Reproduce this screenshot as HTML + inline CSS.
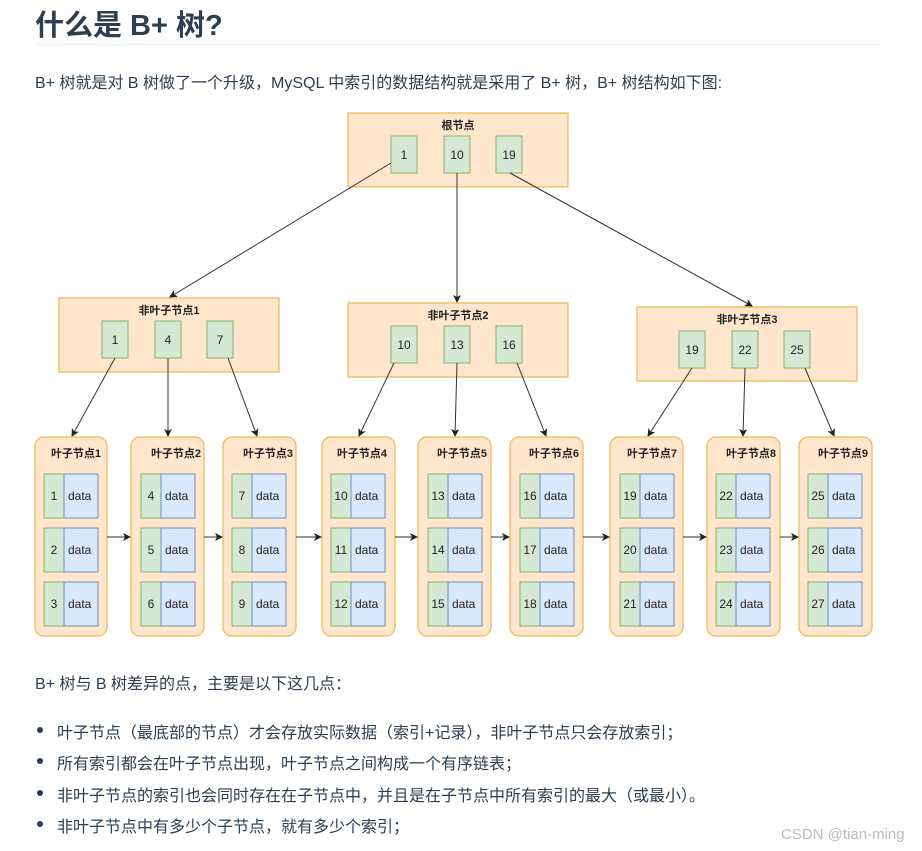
<!DOCTYPE html>
<html><head><meta charset="utf-8"><style>
body{margin:0;width:922px;height:851px;background:#fff;position:relative;overflow:hidden;font-family:"Liberation Sans","Noto Sans CJK SC",sans-serif;color:#2c3e50}
.a{position:absolute;white-space:nowrap}
h1{position:absolute;left:35px;top:2px;margin:0;font-size:29px;font-weight:bold;color:#2c3e50;font-family:"Liberation Sans","Noto Sans CJK SC",sans-serif}
.hr{position:absolute;left:35px;top:44px;width:845px;height:1px;background:#eaecef}
p,.li{font-size:16px}
.dot{position:absolute;width:6px;height:6px;border-radius:50%;background:#2c3e50}
</style></head><body>
<h1>什么是 B+ 树?</h1>
<div class="hr"></div>
<div class="a" style="left:35px;top:69px;font-size:16px">B+ 树就是对 B 树做了一个升级，MySQL 中索引的数据结构就是采用了 B+ 树，B+ 树结构如下图:</div>
<svg class="a" style="left:0;top:0" width="922" height="851" font-family="Liberation Sans,Noto Sans CJK SC,sans-serif">
<defs><marker id="m" markerWidth="8" markerHeight="8" refX="7" refY="4" orient="auto" markerUnits="userSpaceOnUse"><path d="M0,0 L8,4 L0,8 L2,4z" fill="#222"/></marker></defs>
<g fill="#ffe6cc" stroke="#f0b84a" stroke-width="1.2">
<rect x="348" y="113" width="220" height="74"/>
<rect x="59" y="298" width="220" height="74"/>
<rect x="348" y="303" width="220" height="74"/>
<rect x="637" y="307" width="220" height="74"/>
</g>
<g font-size="11" font-weight="bold" fill="#222" text-anchor="middle">
<text x="458" y="129">根节点</text>
<text x="169" y="314">非叶子节点1</text>
<text x="458" y="319">非叶子节点2</text>
<text x="747" y="323">非叶子节点3</text>
</g>
<g fill="#d5e8d4" stroke="#82b366" stroke-width="1">
<rect x="391" y="136" width="26" height="37"/><rect x="444" y="136" width="26" height="37"/><rect x="496" y="136" width="26" height="37"/>
<rect x="102" y="321" width="26" height="37"/><rect x="155" y="321" width="26" height="37"/><rect x="207" y="321" width="26" height="37"/>
<rect x="391" y="326" width="26" height="37"/><rect x="444" y="326" width="26" height="37"/><rect x="496" y="326" width="26" height="37"/>
<rect x="679" y="331" width="26" height="37"/><rect x="732" y="331" width="26" height="37"/><rect x="784" y="331" width="26" height="37"/>
</g>
<g font-size="12" fill="#222" text-anchor="middle">
<text x="404" y="159">1</text><text x="457" y="159">10</text><text x="509" y="159">19</text>
<text x="115" y="344">1</text><text x="168" y="344">4</text><text x="220" y="344">7</text>
<text x="404" y="349">10</text><text x="457" y="349">13</text><text x="509" y="349">16</text>
<text x="692" y="354">19</text><text x="745" y="354">22</text><text x="797" y="354">25</text>
</g>
<g stroke="#333" stroke-width="1" marker-end="url(#m)">
<line x1="391" y1="163" x2="170" y2="297"/>
<line x1="457" y1="173" x2="457" y2="302"/>
<line x1="510" y1="173" x2="752" y2="306"/>
<line x1="115" y1="358" x2="72" y2="436"/>
<line x1="168" y1="358" x2="168" y2="436"/>
<line x1="228" y1="358" x2="257" y2="436"/>
<line x1="394" y1="363" x2="359" y2="436"/>
<line x1="457" y1="363" x2="455" y2="436"/>
<line x1="517" y1="363" x2="546" y2="436"/>
<line x1="692" y1="368" x2="648" y2="436"/>
<line x1="745" y1="368" x2="743" y2="436"/>
<line x1="805" y1="368" x2="834" y2="436"/>
</g>
<g id="leaves"></g>
<g font-size="12" fill="#222">
<!-- leaves generated below -->
</g>
<g id="L">
<g fill="#ffe6cc" stroke="#f0b84a" stroke-width="1.2">
<rect x="35" y="437" width="72" height="199" rx="9"/>
<rect x="131" y="437" width="73" height="199" rx="9"/>
<rect x="223" y="437" width="73" height="199" rx="9"/>
<rect x="322" y="437" width="73" height="199" rx="9"/>
<rect x="418" y="437" width="73" height="199" rx="9"/>
<rect x="510" y="437" width="73" height="199" rx="9"/>
<rect x="610" y="437" width="73" height="199" rx="9"/>
<rect x="707" y="437" width="73" height="199" rx="9"/>
<rect x="799" y="437" width="73" height="199" rx="9"/>
</g>
<g stroke="#333" stroke-width="1" marker-end="url(#m)">
<line x1="107" y1="537" x2="130" y2="537"/>
<line x1="204" y1="537" x2="222" y2="537"/>
<line x1="296" y1="537" x2="321" y2="537"/>
<line x1="395" y1="537" x2="417" y2="537"/>
<line x1="491" y1="537" x2="509" y2="537"/>
<line x1="583" y1="537" x2="609" y2="537"/>
<line x1="683" y1="537" x2="706" y2="537"/>
<line x1="780" y1="537" x2="798" y2="537"/>
</g>
<g font-size="11" font-weight="bold" fill="#222" text-anchor="middle">
<text x="76" y="457">叶子节点1</text><text x="176" y="457">叶子节点2</text><text x="268" y="457">叶子节点3</text>
<text x="362" y="457">叶子节点4</text><text x="462" y="457">叶子节点5</text><text x="554" y="457">叶子节点6</text>
<text x="652" y="457">叶子节点7</text><text x="751" y="457">叶子节点8</text><text x="843" y="457">叶子节点9</text>
</g>
</g>
<g id="cells"></g>
</svg>
<svg class="a" style="left:0;top:0" width="922" height="851" font-family="Liberation Sans,sans-serif" font-size="12" fill="#222">
<g stroke-width="1">
<!-- leaf 1 -->
<g transform="translate(44,0)">
<rect x="0" y="474" width="20" height="44" fill="#d5e8d4" stroke="#82b366"/><rect x="20" y="474" width="34" height="44" fill="#dae8fc" stroke="#6c8ebf"/>
<rect x="0" y="528" width="20" height="44" fill="#d5e8d4" stroke="#82b366"/><rect x="20" y="528" width="34" height="44" fill="#dae8fc" stroke="#6c8ebf"/>
<rect x="0" y="582" width="20" height="44" fill="#d5e8d4" stroke="#82b366"/><rect x="20" y="582" width="34" height="44" fill="#dae8fc" stroke="#6c8ebf"/>
<text x="10" y="500" text-anchor="middle" stroke="none">1</text><text x="10" y="554" text-anchor="middle" stroke="none">2</text><text x="10" y="608" text-anchor="middle" stroke="none">3</text>
<text x="24" y="500" stroke="none">data</text><text x="24" y="554" stroke="none">data</text><text x="24" y="608" stroke="none">data</text></g>
<g transform="translate(141,0)">
<rect x="0" y="474" width="20" height="44" fill="#d5e8d4" stroke="#82b366"/><rect x="20" y="474" width="34" height="44" fill="#dae8fc" stroke="#6c8ebf"/>
<rect x="0" y="528" width="20" height="44" fill="#d5e8d4" stroke="#82b366"/><rect x="20" y="528" width="34" height="44" fill="#dae8fc" stroke="#6c8ebf"/>
<rect x="0" y="582" width="20" height="44" fill="#d5e8d4" stroke="#82b366"/><rect x="20" y="582" width="34" height="44" fill="#dae8fc" stroke="#6c8ebf"/>
<text x="10" y="500" text-anchor="middle">4</text><text x="10" y="554" text-anchor="middle">5</text><text x="10" y="608" text-anchor="middle">6</text>
<text x="24" y="500">data</text><text x="24" y="554">data</text><text x="24" y="608">data</text></g>
<g transform="translate(232,0)">
<rect x="0" y="474" width="20" height="44" fill="#d5e8d4" stroke="#82b366"/><rect x="20" y="474" width="34" height="44" fill="#dae8fc" stroke="#6c8ebf"/>
<rect x="0" y="528" width="20" height="44" fill="#d5e8d4" stroke="#82b366"/><rect x="20" y="528" width="34" height="44" fill="#dae8fc" stroke="#6c8ebf"/>
<rect x="0" y="582" width="20" height="44" fill="#d5e8d4" stroke="#82b366"/><rect x="20" y="582" width="34" height="44" fill="#dae8fc" stroke="#6c8ebf"/>
<text x="10" y="500" text-anchor="middle">7</text><text x="10" y="554" text-anchor="middle">8</text><text x="10" y="608" text-anchor="middle">9</text>
<text x="24" y="500">data</text><text x="24" y="554">data</text><text x="24" y="608">data</text></g>
<g transform="translate(331,0)">
<rect x="0" y="474" width="20" height="44" fill="#d5e8d4" stroke="#82b366"/><rect x="20" y="474" width="34" height="44" fill="#dae8fc" stroke="#6c8ebf"/>
<rect x="0" y="528" width="20" height="44" fill="#d5e8d4" stroke="#82b366"/><rect x="20" y="528" width="34" height="44" fill="#dae8fc" stroke="#6c8ebf"/>
<rect x="0" y="582" width="20" height="44" fill="#d5e8d4" stroke="#82b366"/><rect x="20" y="582" width="34" height="44" fill="#dae8fc" stroke="#6c8ebf"/>
<text x="10" y="500" text-anchor="middle">10</text><text x="10" y="554" text-anchor="middle">11</text><text x="10" y="608" text-anchor="middle">12</text>
<text x="24" y="500">data</text><text x="24" y="554">data</text><text x="24" y="608">data</text></g>
<g transform="translate(428,0)">
<rect x="0" y="474" width="20" height="44" fill="#d5e8d4" stroke="#82b366"/><rect x="20" y="474" width="34" height="44" fill="#dae8fc" stroke="#6c8ebf"/>
<rect x="0" y="528" width="20" height="44" fill="#d5e8d4" stroke="#82b366"/><rect x="20" y="528" width="34" height="44" fill="#dae8fc" stroke="#6c8ebf"/>
<rect x="0" y="582" width="20" height="44" fill="#d5e8d4" stroke="#82b366"/><rect x="20" y="582" width="34" height="44" fill="#dae8fc" stroke="#6c8ebf"/>
<text x="10" y="500" text-anchor="middle">13</text><text x="10" y="554" text-anchor="middle">14</text><text x="10" y="608" text-anchor="middle">15</text>
<text x="24" y="500">data</text><text x="24" y="554">data</text><text x="24" y="608">data</text></g>
<g transform="translate(520,0)">
<rect x="0" y="474" width="20" height="44" fill="#d5e8d4" stroke="#82b366"/><rect x="20" y="474" width="34" height="44" fill="#dae8fc" stroke="#6c8ebf"/>
<rect x="0" y="528" width="20" height="44" fill="#d5e8d4" stroke="#82b366"/><rect x="20" y="528" width="34" height="44" fill="#dae8fc" stroke="#6c8ebf"/>
<rect x="0" y="582" width="20" height="44" fill="#d5e8d4" stroke="#82b366"/><rect x="20" y="582" width="34" height="44" fill="#dae8fc" stroke="#6c8ebf"/>
<text x="10" y="500" text-anchor="middle">16</text><text x="10" y="554" text-anchor="middle">17</text><text x="10" y="608" text-anchor="middle">18</text>
<text x="24" y="500">data</text><text x="24" y="554">data</text><text x="24" y="608">data</text></g>
<g transform="translate(620,0)">
<rect x="0" y="474" width="20" height="44" fill="#d5e8d4" stroke="#82b366"/><rect x="20" y="474" width="34" height="44" fill="#dae8fc" stroke="#6c8ebf"/>
<rect x="0" y="528" width="20" height="44" fill="#d5e8d4" stroke="#82b366"/><rect x="20" y="528" width="34" height="44" fill="#dae8fc" stroke="#6c8ebf"/>
<rect x="0" y="582" width="20" height="44" fill="#d5e8d4" stroke="#82b366"/><rect x="20" y="582" width="34" height="44" fill="#dae8fc" stroke="#6c8ebf"/>
<text x="10" y="500" text-anchor="middle">19</text><text x="10" y="554" text-anchor="middle">20</text><text x="10" y="608" text-anchor="middle">21</text>
<text x="24" y="500">data</text><text x="24" y="554">data</text><text x="24" y="608">data</text></g>
<g transform="translate(716,0)">
<rect x="0" y="474" width="20" height="44" fill="#d5e8d4" stroke="#82b366"/><rect x="20" y="474" width="34" height="44" fill="#dae8fc" stroke="#6c8ebf"/>
<rect x="0" y="528" width="20" height="44" fill="#d5e8d4" stroke="#82b366"/><rect x="20" y="528" width="34" height="44" fill="#dae8fc" stroke="#6c8ebf"/>
<rect x="0" y="582" width="20" height="44" fill="#d5e8d4" stroke="#82b366"/><rect x="20" y="582" width="34" height="44" fill="#dae8fc" stroke="#6c8ebf"/>
<text x="10" y="500" text-anchor="middle">22</text><text x="10" y="554" text-anchor="middle">23</text><text x="10" y="608" text-anchor="middle">24</text>
<text x="24" y="500">data</text><text x="24" y="554">data</text><text x="24" y="608">data</text></g>
<g transform="translate(808,0)">
<rect x="0" y="474" width="20" height="44" fill="#d5e8d4" stroke="#82b366"/><rect x="20" y="474" width="34" height="44" fill="#dae8fc" stroke="#6c8ebf"/>
<rect x="0" y="528" width="20" height="44" fill="#d5e8d4" stroke="#82b366"/><rect x="20" y="528" width="34" height="44" fill="#dae8fc" stroke="#6c8ebf"/>
<rect x="0" y="582" width="20" height="44" fill="#d5e8d4" stroke="#82b366"/><rect x="20" y="582" width="34" height="44" fill="#dae8fc" stroke="#6c8ebf"/>
<text x="10" y="500" text-anchor="middle">25</text><text x="10" y="554" text-anchor="middle">26</text><text x="10" y="608" text-anchor="middle">27</text>
<text x="24" y="500">data</text><text x="24" y="554">data</text><text x="24" y="608">data</text></g>
</g>
</svg>
<div class="a" style="left:35px;top:670px;font-size:16px">B+ 树与 B 树差异的点，主要是以下这几点：</div>
<div class="dot" style="left:37px;top:727px"></div>
<div class="a" style="left:57px;top:719px;font-size:16px">叶子节点（最底部的节点）才会存放实际数据（索引+记录），非叶子节点只会存放索引；</div>
<div class="dot" style="left:37px;top:758px"></div>
<div class="a" style="left:57px;top:750px;font-size:16px">所有索引都会在叶子节点出现，叶子节点之间构成一个有序链表；</div>
<div class="dot" style="left:37px;top:790px"></div>
<div class="a" style="left:57px;top:782px;font-size:16px">非叶子节点的索引也会同时存在在子节点中，并且是在子节点中所有索引的最大（或最小）。</div>
<div class="dot" style="left:37px;top:821px"></div>
<div class="a" style="left:57px;top:813px;font-size:16px">非叶子节点中有多少个子节点，就有多少个索引；</div>
<div class="a" style="left:781px;top:826px;font-size:15px;color:#bbb">CSDN @tian-ming</div>
</body></html>
